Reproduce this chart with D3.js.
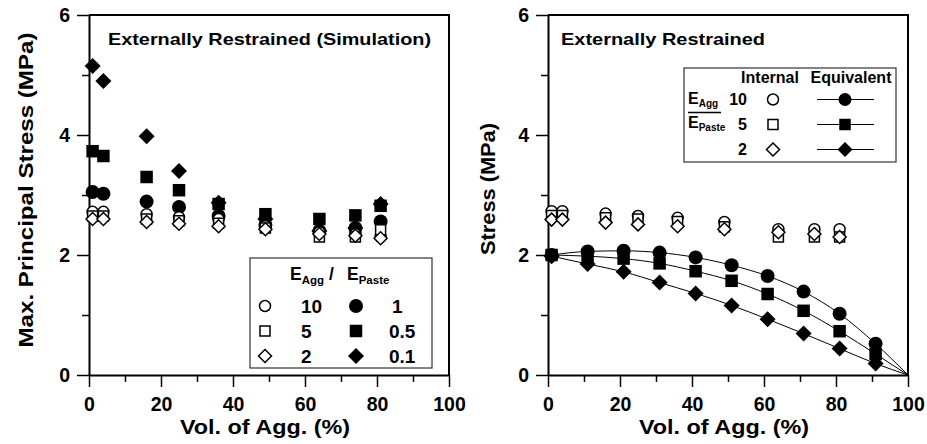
<!DOCTYPE html>
<html>
<head>
<meta charset="utf-8">
<script src="https://cdn.jsdelivr.net/npm/d3@7"></script>
<style>
  body { margin: 0; background: #fff; }
  svg { font-family: "Liberation Sans", Arial, sans-serif; font-weight: bold; }
</style>
</head>
<body>
<svg id="chart" width="927" height="444"></svg>
<script>
// ---- data ----
// left panel: simulation, max principal stress vs aggregate volume
const simVol = [1, 4, 16, 25, 36, 49, 64, 74, 81];
const sim10 = [2.72, 2.72, 2.68, 2.63, 2.6, 2.48, 2.38, 2.35, 2.3];
const sim5 = [2.65, 2.65, 2.6, 2.57, 2.53, 2.45, 2.3, 2.3, 2.42];
const sim2 = [2.6, 2.6, 2.55, 2.52, 2.48, 2.43, 2.35, 2.32, 2.28];
const sim1 = [3.05, 3.02, 2.89, 2.8, 2.65, 2.5, 2.4, 2.45, 2.56];
const sim05 = [3.73, 3.65, 3.3, 3.08, 2.85, 2.68, 2.6, 2.66, 2.82];
const sim01 = [5.15, 4.9, 3.98, 3.4, 2.87, 2.6, 2.4, 2.45, 2.85];

// right panel: internal (open) and equivalent (filled + curve)
const internalVol = [1, 4, 16, 25, 36, 49, 64, 74, 81];
const internal10 = [2.73, 2.73, 2.69, 2.65, 2.62, 2.55, 2.43, 2.43, 2.43];
const internal5 = [2.66, 2.66, 2.62, 2.6, 2.56, 2.47, 2.3, 2.3, 2.3];
const internal2 = [2.59, 2.59, 2.54, 2.51, 2.48, 2.43, 2.38, 2.35, 2.3];

const equivVol = [1, 11, 21, 31, 41, 51, 61, 71, 81, 91];
const equiv10 = [2.0, 2.06, 2.07, 2.04, 1.96, 1.83, 1.65, 1.39, 1.02, 0.52];
const equiv5 = [2.0, 1.98, 1.94, 1.86, 1.73, 1.57, 1.35, 1.07, 0.73, 0.35];
const equiv2 = [1.98, 1.85, 1.72, 1.54, 1.36, 1.16, 0.93, 0.69, 0.44, 0.19];
const fullAggVol = 100; // curves end at zero stress here
const fullAggStress = 0;

const xTicks = [0, 20, 40, 60, 80, 100];
const xMinor = [10, 30, 50, 70, 90];
const yTicks = [0, 2, 4, 6];
const yMinor = [1, 3, 5];

const svg = d3.select("#chart");

// marker paths
function markerPath(kind, s) {
    if (kind === "circle") return d3.symbol(d3.symbolCircle, Math.PI * s * s / 4)();
    if (kind === "square") return d3.symbol(d3.symbolSquare, s * s)();
    // diamond = square turned 45 deg
    const h = s / 2;
    return `M0,${-h}L${h},0L0,${h}L${-h},0Z`;
}
const openSize = { circle: 11, square: 10, diamond: 13 };
const fillSize = { circle: 14, square: 12.5, diamond: 16 };

function drawPanel(left, opts) {
    const top = 15, size = 360;
    const x = d3.scaleLinear().domain([0, 100]).range([left, left + size]);
    const y = d3.scaleLinear().domain([0, 6]).range([top + size, top]);
    const g = svg.append("g");

    // frame top/right
    g.append("path")
        .attr("d", `M${left},${top}H${left + size}V${top + size}`)
        .attr("fill", "none").attr("stroke", "#000").attr("stroke-width", 2);

    // x axis
    g.append("g").attr("transform", `translate(0,${top + size})`)
        .call(d3.axisBottom(x).tickValues(xTicks).tickSize(12).tickPadding(10).tickSizeOuter(0).tickFormat(d3.format("d")));
    g.append("g").attr("transform", `translate(0,${top + size})`)
        .call(d3.axisBottom(x).tickValues(xMinor).tickSize(7).tickFormat("").tickSizeOuter(0))
        .select(".domain").remove();
    // y axis
    g.append("g").attr("transform", `translate(${left},0)`)
        .call(d3.axisLeft(y).tickValues(yTicks).tickSize(12).tickPadding(7).tickSizeOuter(0).tickFormat(d3.format("d")));
    g.append("g").attr("transform", `translate(${left},0)`)
        .call(d3.axisLeft(y).tickValues(yMinor).tickSize(7).tickFormat("").tickSizeOuter(0))
        .select(".domain").remove();

    g.selectAll(".domain").attr("stroke-width", 2);
    g.selectAll(".tick line").attr("stroke-width", 1.5);
    g.selectAll(".tick text")
        .attr("font-size", 19.5).attr("font-weight", "bold")
        .attr("font-family", '"Liberation Sans", Arial, sans-serif').attr("fill", "#000");

    // axis titles
    g.append("text")
        .attr("x", left + size / 2 - 4).attr("y", 434)
        .attr("text-anchor", "middle").attr("font-size", 20)
        .attr("textLength", 170).attr("lengthAdjust", "spacingAndGlyphs")
        .text("Vol. of Agg. (%)");
    g.append("text")
        .attr("transform", `translate(${opts.yTitleX},${opts.yTitleY}) rotate(-90)`)
        .attr("text-anchor", "middle").attr("dy", "0.35em").attr("font-size", 20)
        .attr("textLength", opts.yTitleLen).attr("lengthAdjust", "spacingAndGlyphs")
        .text(opts.yTitle);

    // panel title
    g.append("text")
        .attr("x", opts.titleX).attr("y", 45)
        .attr("font-size", 16.5)
        .attr("textLength", opts.titleLen).attr("lengthAdjust", "spacingAndGlyphs")
        .text(opts.title);

    return { g, x, y };
}

function drawPoints(p, xs, ys, kind, filled) {
    p.g.append("g").selectAll("path")
        .data(xs.map((v, i) => [v, ys[i]]))
        .join("path")
        .attr("transform", d => `translate(${p.x(d[0])},${p.y(d[1])})`)
        .attr("d", markerPath(kind, filled ? fillSize[kind] : openSize[kind]))
        .attr("fill", filled ? "#000" : "#fff")
        .attr("stroke", "#000")
        .attr("stroke-width", filled ? 0 : 1.5);
}

// ---------------- left panel ----------------
const L = drawPanel(89, {
    title: "Externally Restrained (Simulation)", titleX: 108, titleLen: 323,
    yTitle: "Max. Principal Stress (MPa)", yTitleX: 26, yTitleY: 190, yTitleLen: 315
});
drawPoints(L, simVol, sim01, "diamond", true);
drawPoints(L, simVol, sim05, "square", true);
drawPoints(L, simVol, sim1, "circle", true);
drawPoints(L, simVol, sim10, "circle", false);
drawPoints(L, simVol, sim5, "square", false);
drawPoints(L, simVol, sim2, "diamond", false);

// left legend
const lg = L.g.append("g");
lg.append("rect").attr("x", 250).attr("y", 258).attr("width", 182).attr("height", 110)
    .attr("fill", "#fff").attr("stroke", "#333").attr("stroke-width", 1.2);
const hdr = lg.append("text").attr("x", 290).attr("y", 280).attr("font-size", 17.5);
hdr.append("tspan").text("E");
hdr.append("tspan").attr("font-size", 11.5).attr("dy", 4).text("Agg");
hdr.append("tspan").attr("dy", -4).text(" / ");
hdr.append("tspan").attr("x", 347).text("E");
hdr.append("tspan").attr("font-size", 11.5).attr("dy", 4).text("Paste");

const legLeftRows = [
    { kind: "circle", open: "10", filled: "1" },
    { kind: "square", open: "5", filled: "0.5" },
    { kind: "diamond", open: "2", filled: "0.1" }
];
legLeftRows.forEach((r, i) => {
    const cy = 306 + i * 25;
    lg.append("path").attr("transform", `translate(265,${cy})`)
        .attr("d", markerPath(r.kind, openSize[r.kind]))
        .attr("fill", "#fff").attr("stroke", "#000").attr("stroke-width", 1.5);
    lg.append("text").attr("x", 301).attr("y", cy).attr("dy", "0.36em").attr("font-size", 19).text(r.open);
    lg.append("path").attr("transform", `translate(356,${cy})`)
        .attr("d", markerPath(r.kind, fillSize[r.kind]))
        .attr("fill", "#000");
    lg.append("text").attr("x", r.filled === "1" ? 392 : 389).attr("y", cy).attr("dy", "0.36em")
        .attr("font-size", 19).text(r.filled);
});

// ---------------- right panel ----------------
const R = drawPanel(548, {
    title: "Externally Restrained", titleX: 561, titleLen: 204,
    yTitle: "Stress (MPa)", yTitleX: 488, yTitleY: 189, yTitleLen: 132
});

const line = d3.line()
    .x(d => R.x(d[0])).y(d => R.y(d[1]))
    .curve(d3.curveMonotoneX);
[equiv10, equiv5, equiv2].forEach(ser => {
    const pts = equivVol.map((v, i) => [v, ser[i]]).concat([[fullAggVol, fullAggStress]]);
    R.g.append("path").datum(pts)
        .attr("d", line).attr("fill", "none")
        .attr("stroke", "#000").attr("stroke-width", 1);
});
drawPoints(R, equivVol, equiv2, "diamond", true);
drawPoints(R, equivVol, equiv5, "square", true);
drawPoints(R, equivVol, equiv10, "circle", true);
drawPoints(R, internalVol, internal10, "circle", false);
drawPoints(R, internalVol, internal5, "square", false);
drawPoints(R, internalVol, internal2, "diamond", false);

// right legend
const rg = R.g.append("g");
rg.append("rect").attr("x", 684).attr("y", 68).attr("width", 212).attr("height", 94)
    .attr("fill", "#fff").attr("stroke", "#333").attr("stroke-width", 1.2);
rg.append("text").attr("x", 770).attr("y", 83).attr("text-anchor", "middle").attr("font-size", 16).text("Internal");
rg.append("text").attr("x", 851).attr("y", 83).attr("text-anchor", "middle").attr("font-size", 16).text("Equivalent");

const fr1 = rg.append("text").attr("x", 688).attr("y", 104).attr("font-size", 16);
fr1.append("tspan").text("E");
fr1.append("tspan").attr("font-size", 10).attr("dy", 3).text("Agg");
rg.append("line").attr("x1", 688).attr("x2", 721).attr("y1", 112.5).attr("y2", 112.5)
    .attr("stroke", "#000").attr("stroke-width", 1.5);
const fr2 = rg.append("text").attr("x", 688).attr("y", 128).attr("font-size", 16);
fr2.append("tspan").text("E");
fr2.append("tspan").attr("font-size", 10).attr("dy", 3).text("Paste");

const legRightRows = [
    { kind: "circle", label: "10" },
    { kind: "square", label: "5" },
    { kind: "diamond", label: "2" }
];
legRightRows.forEach((r, i) => {
    const cy = 99.5 + i * 25;
    rg.append("text").attr("x", 747).attr("y", cy).attr("dy", "0.36em")
        .attr("text-anchor", "end").attr("font-size", 16).text(r.label);
    rg.append("path").attr("transform", `translate(773,${cy})`)
        .attr("d", markerPath(r.kind, openSize[r.kind]))
        .attr("fill", "#fff").attr("stroke", "#000").attr("stroke-width", 1.5);
    rg.append("line").attr("x1", 817).attr("x2", 874).attr("y1", cy).attr("y2", cy)
        .attr("stroke", "#000").attr("stroke-width", 1);
    rg.append("path").attr("transform", `translate(845,${cy})`)
        .attr("d", markerPath(r.kind, fillSize[r.kind] - 1))
        .attr("fill", "#000");
});
</script>
</body>
</html>
